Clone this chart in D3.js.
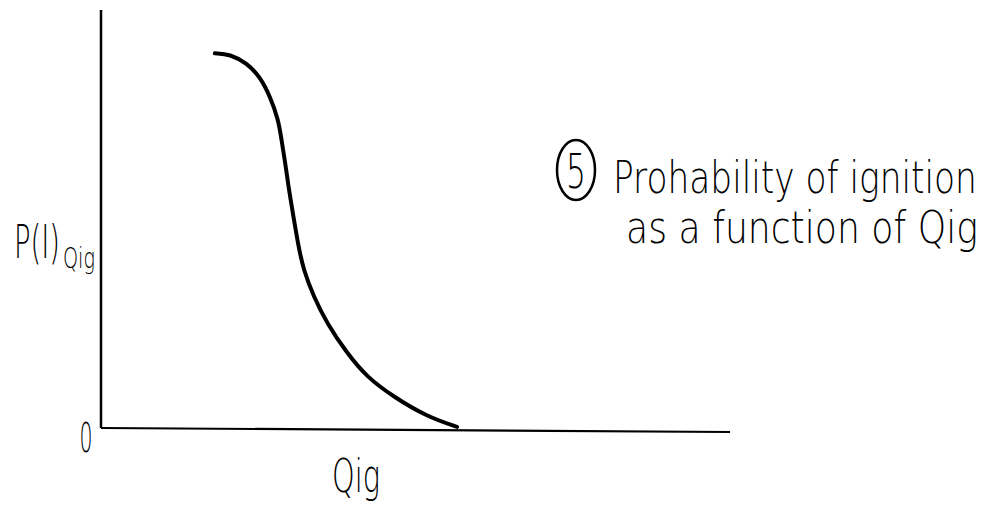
<!DOCTYPE html>
<html>
<head>
<meta charset="utf-8">
<script src="https://cdn.jsdelivr.net/npm/d3@7"></script>
<style>
  html, body { margin: 0; padding: 0; background: #fff; }
  svg { display: block; }
  text { font-family: "DejaVu Sans", sans-serif; font-weight: 200; fill: #000; }
</style>
</head>
<body>
<svg id="chart" width="986" height="508"></svg>
<script>
// Ignition probability P(I) against ignition energy Qig (arbitrary units)
const qig = [1.81, 2.05, 2.32, 2.53, 2.69, 2.82, 2.87, 2.93, 2.98, 3.06, 3.14, 3.22, 3.38, 3.59, 3.91, 4.22, 4.65, 5.18, 5.66];
const pIgnition = [0.986, 0.984, 0.960, 0.924, 0.872, 0.811, 0.758, 0.697, 0.635, 0.556, 0.477, 0.416, 0.346, 0.276, 0.197, 0.135, 0.082, 0.030, 0.003];
const yTickLabels = ["0"];
const xAxisTitle = "Qig";
const yAxisTitle = "P(I)";
const yAxisSub = "Qig";
const noteNumber = "5";
const noteLines = ["Prohability of ignition", "as a function of Qig"];

const svg = d3.select("#chart");

const x = d3.scaleLinear().domain([0, 10]).range([101, 730]);
const y = d3.scaleLinear().domain([0, 1.1]).range([428, 10]);

// Places a text with its left (or centre) at (px, py), squeezed horizontally to the given width
function narrowText(str, px, py, size, width, anchor) {
  const t = svg.append("text").attr("font-size", size).text(str);
  const natural = t.node().getComputedTextLength();
  const sx = width / natural;
  t.attr("text-anchor", anchor || "start")
   .attr("transform", `translate(${px},${py}) scale(${sx},1)`);
  return t;
}

// axes drawn as plain strokes
svg.append("line")
  .attr("x1", x(0)).attr("x2", x(0))
  .attr("y1", y(1.1)).attr("y2", y(0))
  .attr("stroke", "#000").attr("stroke-width", 2.5);

svg.append("line")
  .attr("x1", x(0)).attr("x2", x(10))
  .attr("y1", y(0)).attr("y2", y(0) + 4)
  .attr("stroke", "#000").attr("stroke-width", 2.2);

// zero label
yTickLabels.forEach(d => {
  narrowText(d, x(0) - 15, y(0) + 24, 40, 13, "middle").attr("font-weight", 400);
});

// curve
const points = qig.map((q, i) => [q, pIgnition[i]]);
svg.append("path")
  .datum(points)
  .attr("fill", "none")
  .attr("stroke", "#000")
  .attr("stroke-width", 4)
  .attr("stroke-linecap", "round")
  .attr("d", d3.line().x(d => x(d[0])).y(d => y(d[1])).curve(d3.curveBasis));

// x axis title
narrowText(xAxisTitle, 332, 492, 46, 48);

// y axis title with subscript
narrowText(yAxisTitle, 14, 258, 46, 46);
narrowText(yAxisSub, 63, 268, 28, 32);

// circled note number
svg.append("ellipse")
  .attr("cx", 576).attr("cy", 170).attr("rx", 19).attr("ry", 30)
  .attr("fill", "none").attr("stroke", "#000").attr("stroke-width", 2.5);
narrowText(noteNumber, 576, 188, 48, 20, "middle");

// note text
const noteX = [613, 626];
const noteY = [193, 243];
const noteW = [364, 352];
noteLines.forEach((d, i) => narrowText(d, noteX[i], noteY[i], 44, noteW[i]));
</script>
</body>
</html>
